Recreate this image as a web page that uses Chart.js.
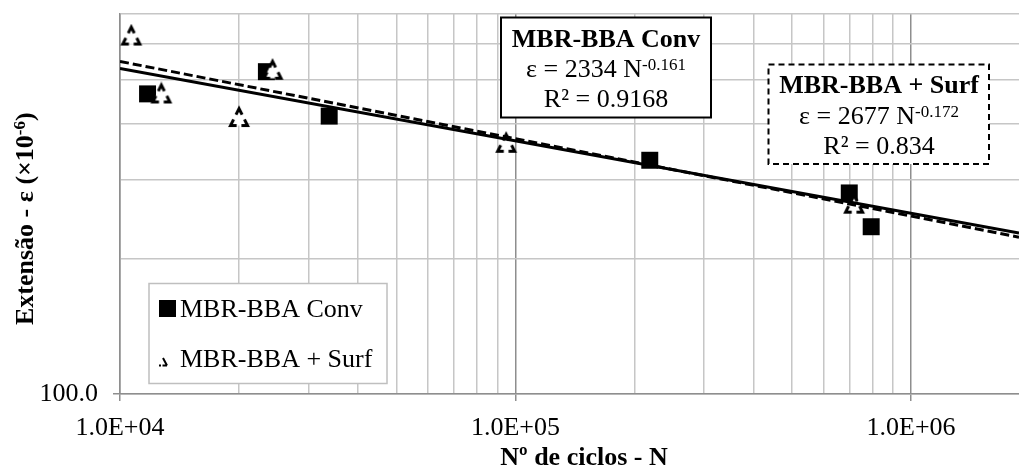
<!DOCTYPE html>
<html>
<head>
<meta charset="utf-8">
<script src="https://cdn.jsdelivr.net/npm/chart.js@4"></script>
<style>
  html, body { margin: 0; padding: 0; background: #fff; }
  #wrap { width: 1019px; height: 467px; }
</style>
</head>
<body>
<div id="wrap"><canvas id="fatigueChart" width="1019" height="467"></canvas></div>
<script>
// Fatigue test results: strain vs number of cycles (log-log)
const convN = [11740, 23450, 33800, 218500, 698000, 793000];
const convEps = [465, 521, 415, 331, 280, 235.5];
const surfN = [10680, 12720, 20000, 24300, 94700, 718000];
const surfEps = [627, 466, 413, 526, 362, 265];

// power-law fits  eps = a * N^b
const convFit = [2334, -0.161];
const surfFit = [2677, -0.172];

const xRange = [1e4, 1.875e6];
const yRange = [100, 700];
const xGrid = [1e4, 2e4, 3e4, 4e4, 5e4, 6e4, 7e4, 8e4, 9e4,
               1e5, 2e5, 3e5, 4e5, 5e5, 6e5, 7e5, 8e5, 9e5, 1e6];
const xMajor = [1e4, 1e5, 1e6];
const xLabels = ['1.0E+04', '1.0E+05', '1.0E+06'];
const yGrid = [100, 200, 300, 400, 500, 600, 700];
const yLabels = ['100.0'];

const FONT = 'Liberation Serif, Times New Roman, serif';
const MINOR = '#c6c6c6';
const MAJOR = '#8e8e8e';

Chart.defaults.font.family = FONT;

// open triangle marker with dashed outline (dash around each corner)
function makeTriangle() {
    const c = document.createElement('canvas');
    c.width = 24; c.height = 24;
    const g = c.getContext('2d');
    const pts = [[12, 3.5], [20.5, 20.5], [3.5, 20.5]];
    g.beginPath();
    g.moveTo(pts[0][0], pts[0][1]);
    g.lineTo(pts[1][0], pts[1][1]);
    g.lineTo(pts[2][0], pts[2][1]);
    g.closePath();
    g.fillStyle = '#fff';
    g.fill();
    g.strokeStyle = '#000';
    g.lineWidth = 3;
    g.lineJoin = 'miter';
    g.lineCap = 'butt';
    for (let i = 0; i < 3; i++) {
        const v = pts[i], a = pts[(i + 2) % 3], b = pts[(i + 1) % 3];
        const k = 0.36;
        g.beginPath();
        g.moveTo(v[0] + k * (a[0] - v[0]), v[1] + k * (a[1] - v[1]));
        g.lineTo(v[0], v[1]);
        g.lineTo(v[0] + k * (b[0] - v[0]), v[1] + k * (b[1] - v[1]));
        g.stroke();
    }
    return c;
}

function fitLine(fit) {
    return xRange.map(n => ({ x: n, y: fit[0] * Math.pow(n, fit[1]) }));
}

function xLabel(v) {
    const i = xMajor.indexOf(v);
    return i >= 0 ? xLabels[i] : '';
}

// text with a raised tail, e.g. N^-0.161
function drawSup(ctx, base, sup, x, y, font, supFont, rise, align) {
    ctx.font = font;
    const w1 = ctx.measureText(base).width;
    ctx.font = supFont;
    const w2 = ctx.measureText(sup).width;
    let x0 = align === 'center' ? x - (w1 + w2) / 2 : x;
    ctx.textAlign = 'left';
    ctx.font = font;
    ctx.fillText(base, x0, y);
    ctx.font = supFont;
    ctx.fillText(sup, x0 + w1, y - rise);
    return x0 + w1 + w2;
}

const overlay = {
    id: 'overlay',
    afterDraw(chart) {
        const ctx = chart.ctx;
        const bold = 'bold 26px ' + FONT;
        const reg = '26px ' + FONT;
        const sup = '17px ' + FONT;
        ctx.save();
        ctx.fillStyle = '#000';
        ctx.textBaseline = 'alphabetic';

        // equation box, conventional mix
        ctx.fillStyle = '#fff';
        ctx.fillRect(501, 17.5, 210, 100);
        ctx.strokeStyle = '#000';
        ctx.lineWidth = 2;
        ctx.strokeRect(501, 17.5, 210, 100);
        ctx.fillStyle = '#000';
        ctx.textAlign = 'center';
        ctx.font = bold;
        ctx.fillText('MBR-BBA Conv', 606, 47);
        drawSup(ctx, 'ε = ' + convFit[0] + ' N', convFit[1].toFixed(3), 606, 77, reg, sup, 7, 'center');
        ctx.textAlign = 'center';
        ctx.font = reg;
        ctx.fillText('R² = 0.9168', 606, 107);

        // equation box, surfactant mix
        ctx.fillStyle = '#fff';
        ctx.fillRect(768.5, 64.5, 220.5, 99.5);
        ctx.setLineDash([6, 4]);
        ctx.strokeRect(768.5, 64.5, 220.5, 99.5);
        ctx.setLineDash([]);
        ctx.fillStyle = '#000';
        ctx.textAlign = 'center';
        ctx.font = bold;
        ctx.fillText('MBR-BBA + Surf', 879, 93);
        drawSup(ctx, 'ε = ' + surfFit[0] + ' N', surfFit[1].toFixed(3), 879, 124, reg, sup, 7, 'center');
        ctx.textAlign = 'center';
        ctx.font = reg;
        ctx.fillText('R² = 0.834', 879, 154);

        // legend
        ctx.fillStyle = '#fff';
        ctx.fillRect(149, 283.5, 238, 100);
        ctx.strokeStyle = '#bfbfbf';
        ctx.lineWidth = 1.5;
        ctx.strokeRect(149, 283.5, 238, 100);
        ctx.fillStyle = '#000';
        ctx.fillRect(159, 300, 17, 17);
        ctx.strokeStyle = '#000';
        ctx.lineWidth = 2;
        ctx.beginPath();
        ctx.moveTo(159, 365.5); ctx.lineTo(161, 365.5);
        ctx.moveTo(162.5, 365.5); ctx.lineTo(167, 365.5);
        ctx.moveTo(163, 358); ctx.lineTo(167, 365.5);
        ctx.stroke();
        ctx.textAlign = 'left';
        ctx.font = reg;
        ctx.fillText('MBR-BBA Conv', 180, 317);
        ctx.fillText('MBR-BBA + Surf', 180, 366.5);

        // axis titles
        ctx.textAlign = 'center';
        ctx.font = bold;
        ctx.fillText('Nº de ciclos - N', 584, 465);

        ctx.translate(33, 325);
        ctx.rotate(-Math.PI / 2);
        const end = drawSup(ctx, 'Extensão - ε (×10', '-6', 0, 0, bold, 'bold 17px ' + FONT, 8, 'left');
        ctx.font = bold;
        ctx.fillText(')', end, 0);
        ctx.restore();
    }
};

new Chart(document.getElementById('fatigueChart'), {
    type: 'scatter',
    data: {
        datasets: [
            {
                label: 'MBR-BBA Conv',
                data: convN.map((n, i) => ({ x: n, y: convEps[i] })),
                pointStyle: 'rect',
                pointRadius: 12,
                backgroundColor: '#000',
                borderWidth: 0,
                order: 3
            },
            {
                label: 'MBR-BBA + Surf',
                data: surfN.map((n, i) => ({ x: n, y: surfEps[i] })),
                pointStyle: makeTriangle(),
                pointRadius: 11,
                order: 2
            },
            {
                label: 'Conv fit',
                data: fitLine(convFit),
                showLine: true,
                pointRadius: 0,
                borderColor: '#000',
                borderWidth: 3,
                order: 0
            },
            {
                label: 'Surf fit',
                data: fitLine(surfFit),
                showLine: true,
                pointRadius: 0,
                borderColor: '#000',
                borderWidth: 3,
                borderDash: [9, 4],
                order: 1
            }
        ]
    },
    options: {
        responsive: false,
        animation: false,
        events: [],
        layout: { autoPadding: false, padding: { top: 14, right: 0, left: 0, bottom: 0 } },
        plugins: { legend: { display: false }, tooltip: { enabled: false } },
        scales: {
            x: {
                type: 'logarithmic',
                min: xRange[0],
                max: xRange[1],
                afterBuildTicks: s => { s.ticks = xGrid.map(v => ({ value: v })); },
                afterFit: s => { s.height = 73; s.paddingLeft = 0; s.paddingRight = 0; },
                ticks: {
                    autoSkip: false,
                    maxRotation: 0,
                    padding: 14,
                    color: '#000',
                    font: { size: 26, lineHeight: 1 },
                    callback: v => xLabel(v)
                },
                grid: {
                    lineWidth: 1.5,
                    tickLength: 7,
                    color: c => xMajor.includes(c.tick.value) ? MAJOR : MINOR,
                    tickColor: c => xMajor.includes(c.tick.value) ? MAJOR : 'rgba(0,0,0,0)'
                },
                border: { color: MAJOR, width: 1.5 }
            },
            y: {
                type: 'logarithmic',
                min: yRange[0],
                max: yRange[1],
                afterBuildTicks: s => { s.ticks = yGrid.map(v => ({ value: v })); },
                afterFit: s => { s.width = 120; s.paddingTop = 0; s.paddingBottom = 0; },
                ticks: {
                    autoSkip: false,
                    padding: 15,
                    color: '#000',
                    font: { size: 26, lineHeight: 0.5 },
                    callback: v => v === yGrid[0] ? yLabels[0] : ''
                },
                grid: {
                    lineWidth: 1.5,
                    tickLength: 7,
                    color: MINOR,
                    tickColor: c => c.tick.value === yGrid[0] ? MAJOR : 'rgba(0,0,0,0)'
                },
                border: { color: MAJOR, width: 1.5 }
            }
        }
    },
    plugins: [overlay]
});
</script>
</body>
</html>
